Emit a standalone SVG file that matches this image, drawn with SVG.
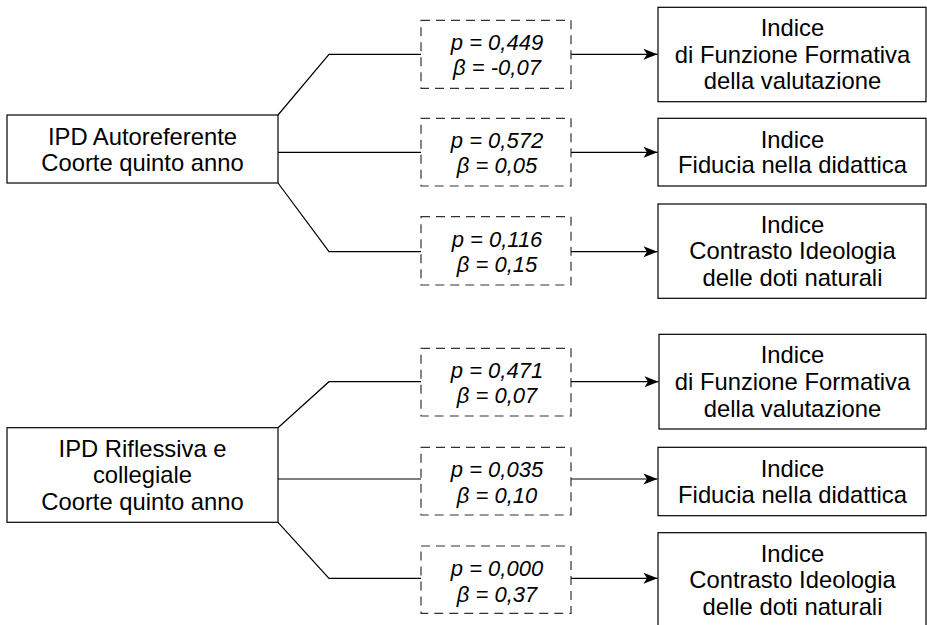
<svg xmlns="http://www.w3.org/2000/svg" width="927" height="625" viewBox="0 0 927 625">
<style>
  .box { fill: #fff; stroke: #000; stroke-width: 1.2; }
  .dbox { fill: #fff; stroke: #333; stroke-width: 1.2; stroke-dasharray: 9 6; }
  .t { font-family: "Liberation Sans", Arial, sans-serif; font-size: 23.8px; fill: #000; text-anchor: middle; }
  .it { font-family: "Liberation Sans", Arial, sans-serif; font-size: 22px; font-style: italic; fill: #000; text-anchor: middle; }
  .ln { fill: none; stroke: #000; stroke-width: 1.2; }
</style>
<defs>
  <marker id="arr" markerUnits="userSpaceOnUse" markerWidth="16" markerHeight="12" refX="15" refY="6" orient="auto">
    <path d="M15,6 L1,0.5 L4.5,6 L1,11.5 Z" fill="#000"/>
  </marker>
</defs>
<rect width="927" height="625" fill="#fff"/>

<g id="connectors">
  <polyline class="ln" points="278,115 329,54.3 421,54.3"/>
  <line class="ln" x1="278" y1="152.3" x2="421" y2="152.3"/>
  <polyline class="ln" points="278,183 329,251.7 421,251.7"/>
  <line class="ln" x1="571" y1="54.3" x2="657.5" y2="54.3" marker-end="url(#arr)"/>
  <line class="ln" x1="571" y1="152.3" x2="657.5" y2="152.3" marker-end="url(#arr)"/>
  <line class="ln" x1="571" y1="251.7" x2="657.5" y2="251.7" marker-end="url(#arr)"/>

  <polyline class="ln" points="278,427.7 329,381.7 421,381.7"/>
  <line class="ln" x1="278" y1="479" x2="421" y2="479"/>
  <polyline class="ln" points="278,522.3 329,578.3 421,578.3"/>
  <line class="ln" x1="571" y1="381.7" x2="658.5" y2="381.7" marker-end="url(#arr)"/>
  <line class="ln" x1="571" y1="479" x2="657.5" y2="479" marker-end="url(#arr)"/>
  <line class="ln" x1="571" y1="578.3" x2="657.5" y2="578.3" marker-end="url(#arr)"/>
</g>

<g id="src1">
  <rect class="box" x="7" y="115" width="271" height="68"/>
  <text class="t" x="142.5" y="145">IPD Autoreferente</text>
  <text class="t" x="142.5" y="171">Coorte quinto anno</text>
</g>
<g id="src2">
  <rect class="box" x="7" y="427.7" width="271" height="94.6"/>
  <text class="t" x="142.5" y="456.7">IPD Riflessiva e</text>
  <text class="t" x="142.5" y="483.3">collegiale</text>
  <text class="t" x="142.5" y="510">Coorte quinto anno</text>
</g>

<g id="stat1">
  <rect class="dbox" x="421" y="20.3" width="150" height="68"/>
  <text class="it" x="497" y="50">p = 0,449</text>
  <text class="it" x="497" y="75">β = -0,07</text>
</g>
<g id="stat2">
  <rect class="dbox" x="421" y="118.3" width="150" height="67.7"/>
  <text class="it" x="497" y="148">p = 0,572</text>
  <text class="it" x="497" y="173">β = 0,05</text>
</g>
<g id="stat3">
  <rect class="dbox" x="421" y="216.7" width="150" height="68.3"/>
  <text class="it" x="497" y="247">p = 0,116</text>
  <text class="it" x="497" y="272">β = 0,15</text>
</g>
<g id="stat4">
  <rect class="dbox" x="421" y="348.3" width="150" height="67.7"/>
  <text class="it" x="497" y="377.5">p = 0,471</text>
  <text class="it" x="497" y="403">β = 0,07</text>
</g>
<g id="stat5">
  <rect class="dbox" x="421" y="447.3" width="150" height="67.7"/>
  <text class="it" x="497" y="477">p = 0,035</text>
  <text class="it" x="497" y="502.5">β = 0,10</text>
</g>
<g id="stat6">
  <rect class="dbox" x="421" y="546" width="150" height="67.3"/>
  <text class="it" x="497" y="576">p = 0,000</text>
  <text class="it" x="497" y="601.5">β = 0,37</text>
</g>

<g id="idx1">
  <rect class="box" x="658" y="7.3" width="268" height="94.4"/>
  <text class="t" x="792.5" y="36">Indice</text>
  <text class="t" x="792.5" y="62.7">di Funzione Formativa</text>
  <text class="t" x="792.5" y="89.3">della valutazione</text>
</g>
<g id="idx2">
  <rect class="box" x="658" y="118.3" width="268" height="67.7"/>
  <text class="t" x="792.5" y="147.7">Indice</text>
  <text class="t" x="792.5" y="173.3">Fiducia nella didattica</text>
</g>
<g id="idx3">
  <rect class="box" x="658" y="204" width="268" height="94.3"/>
  <text class="t" x="792.5" y="232.7">Indice</text>
  <text class="t" x="792.5" y="259.3">Contrasto Ideologia</text>
  <text class="t" x="792.5" y="286">delle doti naturali</text>
</g>
<g id="idx4">
  <rect class="box" x="659" y="334.3" width="267" height="94.7"/>
  <text class="t" x="792.5" y="363.3">Indice</text>
  <text class="t" x="792.5" y="390">di Funzione Formativa</text>
  <text class="t" x="792.5" y="416.7">della valutazione</text>
</g>
<g id="idx5">
  <rect class="box" x="658" y="447.3" width="268" height="68.4"/>
  <text class="t" x="792.5" y="476.7">Indice</text>
  <text class="t" x="792.5" y="502.7">Fiducia nella didattica</text>
</g>
<g id="idx6">
  <rect class="box" x="658" y="532.7" width="268" height="94.3"/>
  <text class="t" x="792.5" y="561.7">Indice</text>
  <text class="t" x="792.5" y="588.3">Contrasto Ideologia</text>
  <text class="t" x="792.5" y="615">delle doti naturali</text>
</g>
</svg>
